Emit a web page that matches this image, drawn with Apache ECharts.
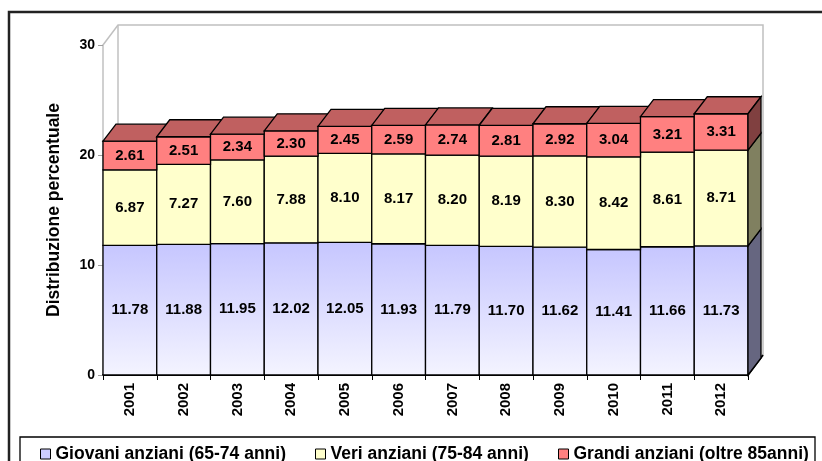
<!DOCTYPE html>
<html>
<head>
<meta charset="utf-8">
<script src="https://cdn.jsdelivr.net/npm/echarts@6/dist/echarts.min.js"></script>
<style>
  html, body { margin: 0; padding: 0; background: #fff; }
  #chart { width: 822px; height: 461px; }
</style>
</head>
<body>
<div id="chart"></div>
<script>
// dati
const years = ['2001', '2002', '2003', '2004', '2005', '2006', '2007', '2008', '2009', '2010', '2011', '2012'];
const giovani = [11.78, 11.88, 11.95, 12.02, 12.05, 11.93, 11.79, 11.70, 11.62, 11.41, 11.66, 11.73];
const veri = [6.87, 7.27, 7.60, 7.88, 8.10, 8.17, 8.20, 8.19, 8.30, 8.42, 8.61, 8.71];
const grandi = [2.61, 2.51, 2.34, 2.30, 2.45, 2.59, 2.74, 2.81, 2.92, 3.04, 3.21, 3.31];
const seriesNames = ['Giovani anziani (65-74 anni)', 'Veri anziani (75-84 anni)', 'Grandi anziani (oltre 85anni)'];
const yTicks = [0, 10, 20, 30];

// profondita' 3D
const DX = 13;
const DY = 17;
const G = { left: 103, right: 74, top: 45, bottom: 86 };
const FONT = '"Liberation Sans", Arial, sans-serif';

const chart = echarts.init(document.getElementById('chart'));

// costruisce [indice, base, cima, valore] per ogni serie impilata
function stackData(values, below) {
  return values.map((v, i) => {
    let base = 0;
    below.forEach(arr => { base += arr[i]; });
    return [i, base, base + v, v];
  });
}

const styles = [
  {
    front: new echarts.graphic.LinearGradient(0, 0, 0, 1, [
      { offset: 0, color: '#c6c6ff' },
      { offset: 1, color: '#f4f4ff' }
    ]),
    legend: '#ccccff', top: '#9999cc', side: '#666680'
  },
  { front: '#ffffcc', legend: '#ffffcc', top: '#cccc99', side: '#808060' },
  { front: '#ff8080', legend: '#ff8080', top: '#c06060', side: '#804040' }
];

function makeRender(idx, isTop) {
  const st = styles[idx];
  return function (params, api) {
    const i = api.value(0);
    const lo = api.coord([i, api.value(1)]);
    const hi = api.coord([i, api.value(2)]);
    const w = api.size([1, 0])[0];
    const x0 = lo[0] - w / 2;
    const x1 = lo[0] + w / 2;
    const children = [];
    children.push({
      type: 'rect',
      shape: { x: x0, y: hi[1], width: w, height: lo[1] - hi[1] },
      style: { fill: st.front, stroke: '#000', lineWidth: 1.3 }
    });
    if (isTop) {
      children.push({
        type: 'polygon',
        shape: { points: [[x0, hi[1]], [x0 + DX, hi[1] - DY], [x1 + DX, hi[1] - DY], [x1, hi[1]]] },
        style: { fill: st.top, stroke: '#000', lineWidth: 1.3 }
      });
    }
    if (i === years.length - 1) {
      children.push({
        type: 'polygon',
        shape: { points: [[x1, hi[1]], [x1 + DX, hi[1] - DY], [x1 + DX, lo[1] - DY], [x1, lo[1]]] },
        style: { fill: st.side, stroke: '#000', lineWidth: 1.3 }
      });
    }
    children.push({
      type: 'text',
      style: {
        text: api.value(3).toFixed(2),
        x: lo[0],
        y: (lo[1] + hi[1]) / 2,
        align: 'center',
        verticalAlign: 'middle',
        font: 'bold 15px ' + FONT,
        fill: '#000'
      }
    });
    return { type: 'group', children: children };
  };
}

const data1 = stackData(giovani, []);
const data2 = stackData(veri, [giovani]);
const data3 = stackData(grandi, [giovani, veri]);

const plotW = 822 - G.left - G.right;
const plotH = 461 - G.top - G.bottom;

chart.setOption({
  animation: false,
  backgroundColor: '#fff',
  graphic: [
    // cornice esterna
    { type: 'rect', shape: { x: 9, y: 12, width: 830, height: 470 }, style: { fill: 'none', stroke: '#222', lineWidth: 2.5 }, z: 0 },
    // parete di fondo
    {
      type: 'polyline',
      shape: { points: [[G.left, G.top], [G.left + DX + 2, G.top - DY - 3], [G.left + plotW + DX + 2, G.top - DY - 3], [G.left + plotW + DX + 2, G.top + plotH - DY - 3]] },
      style: { stroke: '#c0c0c0', lineWidth: 1.5, fill: 'none' }, z: 0
    },
    {
      type: 'line',
      shape: { x1: G.left + DX + 2, y1: G.top - DY - 3, x2: G.left + DX + 2, y2: G.top + plotH - DY - 3 },
      style: { stroke: '#c0c0c0', lineWidth: 1.5 }, z: 0
    },
    {
      type: 'line',
      shape: { x1: G.left + plotW, y1: G.top + plotH, x2: G.left + plotW + DX + 2, y2: G.top + plotH - DY - 3 },
      style: { stroke: '#000', lineWidth: 2 }, z: 0
    },
    // riquadro legenda
    { type: 'rect', shape: { x: 20, y: 437, width: 795, height: 40 }, style: { fill: '#fff', stroke: '#000', lineWidth: 1.3 }, z: 0 }
  ],
  grid: { left: G.left, right: G.right, top: G.top, bottom: G.bottom },
  legend: seriesNames.map((n, k) => ({
    data: [n],
    left: [35, 310, 553][k],
    top: 440,
    icon: 'rect',
    itemWidth: 10,
    itemHeight: 10,
    itemGap: 5,
    itemStyle: { borderColor: '#000', borderWidth: 1 },
    textStyle: { fontFamily: FONT, fontWeight: 'bold', fontSize: 17.5, color: '#000' },
    selectedMode: false
  })),
  xAxis: {
    type: 'category',
    data: years,
    boundaryGap: true,
    axisLine: { lineStyle: { color: '#000', width: 2 } },
    axisTick: { show: true, length: 5, lineStyle: { color: '#000' } },
    axisLabel: {
      rotate: 90,
      margin: 8,
      color: '#000',
      fontWeight: 'bold',
      fontSize: 15,
      fontFamily: FONT
    }
  },
  yAxis: {
    type: 'value',
    min: yTicks[0],
    max: yTicks[yTicks.length - 1],
    interval: 10,
    name: 'Distribuzione percentuale',
    nameLocation: 'middle',
    nameGap: 40,
    nameTextStyle: { color: '#000', fontWeight: 'bold', fontSize: 17.5, fontFamily: FONT },
    axisLine: { show: true, lineStyle: { color: '#c0c0c0', width: 1.5 } },
    axisTick: { show: true, length: 5, lineStyle: { color: '#a0a0a0' } },
    splitLine: { show: false },
    axisLabel: { color: '#000', fontWeight: 'bold', fontSize: 14, margin: 8, fontFamily: FONT }
  },
  series: [
    { name: seriesNames[0], type: 'custom', renderItem: makeRender(0, false), data: data1, encode: { x: 0, y: [1, 2] }, itemStyle: { color: styles[0].legend } },
    { name: seriesNames[1], type: 'custom', renderItem: makeRender(1, false), data: data2, encode: { x: 0, y: [1, 2] }, itemStyle: { color: styles[1].legend } },
    { name: seriesNames[2], type: 'custom', renderItem: makeRender(2, true), data: data3, encode: { x: 0, y: [1, 2] }, itemStyle: { color: styles[2].legend } }
  ]
});
</script>
</body>
</html>
